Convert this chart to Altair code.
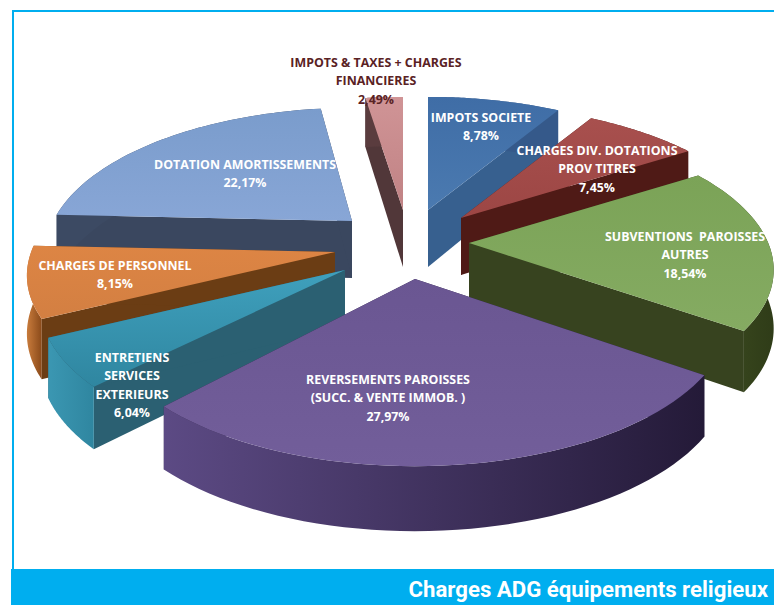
import math
import altair as alt

# ---- data
CATEGORIES = ["IMPOTS SOCIETE", "CHARGES DIV. DOTATIONS PROV TITRES", "SUBVENTIONS  PAROISSES AUTRES",
              "REVERSEMENTS PAROISSES (SUCC. & VENTE IMMOB. )", "ENTRETIENS SERVICES EXTERIEURS",
              "CHARGES DE PERSONNEL", "DOTATION AMORTISSEMENTS", "IMPOTS & TAXES + CHARGES FINANCIERES"]
VALUES = [8.78, 7.45, 18.54, 27.97, 6.04, 8.15, 22.17, 2.49]
LABEL_LINES = [
    ["IMPOTS SOCIETE", "8,78%"],
    ["CHARGES DIV. DOTATIONS", "PROV TITRES", "7,45%"],
    ["SUBVENTIONS \u00a0PAROISSES", "AUTRES", "18,54%"],
    ["REVERSEMENTS PAROISSES", "(SUCC. & VENTE IMMOB. )", "27,97%"],
    ["ENTRETIENS", "SERVICES", "EXTERIEURS", "6,04%"],
    ["CHARGES DE PERSONNEL", "8,15%"],
    ["DOTATION AMORTISSEMENTS", "22,17%"],
    ["IMPOTS & TAXES + CHARGES", "FINANCIERES", "2,49%"],
]
TITLE = "Charges ADG équipements religieux"

# ---- layout / styling (picture pixels)
A, B, K = 305.0, 141.0, 0.2466
APEX = [(428, 210), (461, 218), (469, 243), (415, 279), (345, 270), (335, 252), (352, 221), (403, 210)]
START_NUDGE = [0, 0, 0, 2.5, 2.5, 0, 0, 0]
END_NUDGE = [0, 0, 1.5, 0, 0, 0, 1.5, 0]
RIM_R = [(1, 1), (1, 1), (1.01, 0.95), (1, 1), (0.97, 0.97), (0.96, 1), (0.98, 1), (1, 1)]
LABEL_POS = [(481, 118), (597, 151), (685, 237), (388, 380), (132, 358), (115, 266), (245, 165), (376, 63)]
LABEL_COLOR = ["white"] * 7 + ["#5a2224"]
TOP = [("#3f6da6", "#4b7ab0"), ("#a8504e", "#9c4644"), ("#7ba357", "#85ab62"), ("#6a5692", "#725e9a"),
       ("#3fa0bd", "#2f86a0"), ("#dd8544", "#d37f42"), ("#7a9ccc", "#88a6d6"), ("#d09496", "#c08284")]
RIM = [("#35598a", "#35598a"), ("#4f1a16", "#4f1a16"), ("#3f4f22", "#2f3c18"), ("#5c4a84", "#241a38"),
       ("#3b97b2", "#2f86a0"), ("#c87b3c", "#8a4a1a"), ("#3c4a63", "#3c4a63"), ("#5a3c3e", "#5a3c3e")]
EDGE = ["#37608f", "#4f1a16", "#37431f", "#2b2045", "#2b6072", "#6b3d14", "#3a475f", "#513739"]
DRAW_ORDER = [7, 0, 6, 1, 5, 2, 4, 3]
BLUE = "#00aeef"
OFF = 8  # page margin
W, H = 766, 597


def project(i, theta, r=1.0, z=0.0):
    u, v = r * math.sin(theta), -r * math.cos(theta)
    s = 1 / (1 - K * v)
    ax, ay = APEX[i]
    depth = (57 + 8 * v) * z
    return [ax + A * u * s, ay + B * v * s + depth]


def feature(points):
    ring = points + [points[0]]
    return {"type": "Feature", "properties": {}, "geometry": {"type": "Polygon", "coordinates": [ring]}}


def gradient(pair, vertical=False):
    return alt.Gradient(gradient="linear",
                        stops=[alt.GradientStop(color=pair[0], offset=0), alt.GradientStop(color=pair[1], offset=1)],
                        x1=0, y1=0, x2=0 if vertical else 1, y2=1 if vertical else 0)


PROJ = alt.Projection(type="identity", scale=1, translate=[-OFF, -OFF])


def face(points, fill):
    return alt.Chart(alt.Data(values=[feature(points)])).mark_geoshape(fill=fill, strokeWidth=0).project(**PROJ.to_dict())


total = sum(VALUES)
layers = []
# frame and footer band
layers.append(alt.Chart(alt.Data(values=[{}])).mark_rect(color=BLUE).encode(
    x=alt.value(12 - OFF), x2=alt.value(14 - OFF), y=alt.value(10 - OFF), y2=alt.value(570 - OFF)))
layers.append(alt.Chart(alt.Data(values=[{}])).mark_rect(color=BLUE).encode(
    x=alt.value(12 - OFF), x2=alt.value(W), y=alt.value(10 - OFF), y2=alt.value(12 - OFF)))
layers.append(alt.Chart(alt.Data(values=[{}])).mark_rect(color=BLUE).encode(
    x=alt.value(11 - OFF), x2=alt.value(W), y=alt.value(569 - OFF), y2=alt.value(H)))

cum = [0.0]
for val in VALUES:
    cum.append(cum[-1] + val)

for i in DRAW_ORDER:
    t0 = 2 * math.pi * cum[i] / total + math.radians(START_NUDGE[i])
    t1 = 2 * math.pi * cum[i + 1] / total + math.radians(END_NUDGE[i])
    n = 48
    thetas = [t0 + (t1 - t0) * j / n for j in range(n + 1)]
    radii = [RIM_R[i][0] + (RIM_R[i][1] - RIM_R[i][0]) * j / n for j in range(n + 1)]
    top_arc = [project(i, t, r) for t, r in zip(thetas, radii)]
    bot_arc = [project(i, t, r, 1) for t, r in zip(thetas, radii)]
    apex_top, apex_bot = project(i, 0, 0), project(i, 0, 0, 1)
    for k in (0, n):
        layers.append(face([apex_top, top_arc[k], bot_arc[k], apex_bot], EDGE[i]))
    layers.append(face(top_arc + bot_arc[::-1], gradient(RIM[i])))
    layers.append(face([apex_top] + top_arc, gradient(TOP[i], vertical=True)))

for lines, (x, y), col in zip(LABEL_LINES, LABEL_POS, LABEL_COLOR):
    layers.append(alt.Chart(alt.Data(values=[{}])).mark_text(
        text=lines, font="Open Sans", fontWeight="bold", fontSize=12.4, lineHeight=18.3,
        align="center", baseline="middle", color=col
    ).encode(x=alt.value(x - OFF), y=alt.value(y - OFF)))

layers.append(alt.Chart(alt.Data(values=[{}])).mark_text(
    text=TITLE, font="Roboto", fontWeight="bold", fontSize=22.2,
    align="right", baseline="middle", color="white"
).encode(x=alt.value(768 - OFF), y=alt.value(590 - OFF)))

chart = alt.layer(*layers).properties(
    width=W, height=H, padding=0, autosize=alt.AutoSizeParams(type="none"),
    background="white"
).configure_view(stroke=None)

chart.save("out.html", embed_options={"renderer": "svg", "actions": False})
